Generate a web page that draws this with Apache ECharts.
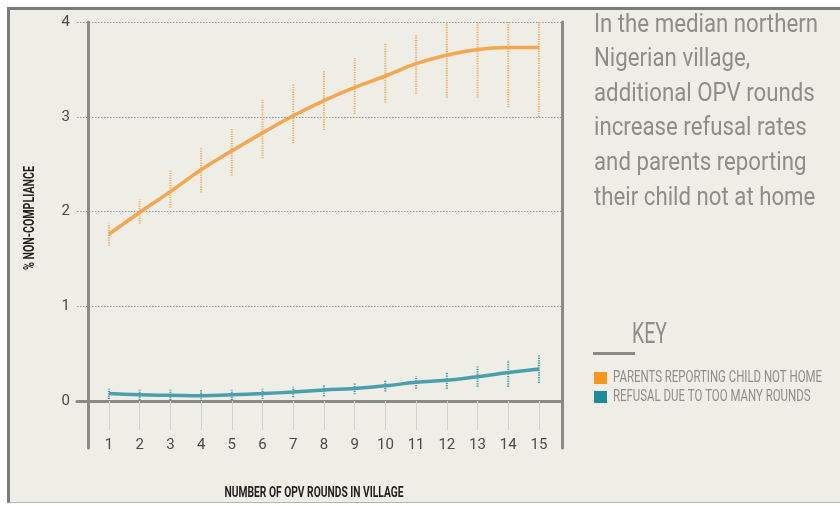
<!DOCTYPE html>
<html>
<head>
<meta charset="utf-8">
<script src="https://cdn.jsdelivr.net/npm/echarts@6/dist/echarts.min.js"></script>
<style>
  html, body { margin: 0; padding: 0; background: #ffffff; }
  #wrap { position: relative; width: 840px; height: 506px; overflow: hidden; }
  #frame { position: absolute; left: 7px; top: 7px; width: 840px; height: 496px;
           background: #eeede6; border-top: 3px solid #7a7a7a; border-left: 3px solid #7a7a7a;
           border-bottom: 1px solid #b4b4b0; box-sizing: border-box; }
  #chart { position: absolute; left: 0; top: 0; width: 840px; height: 506px; }
</style>
</head>
<body>
<div id="wrap"><div id="frame"></div><div id="chart"></div></div>
<script>
const rounds = [1, 2, 3, 4, 5, 6, 7, 8, 9, 10, 11, 12, 13, 14, 15];

const notHome     = [1.76, 1.99, 2.21, 2.44, 2.64, 2.83, 3.01, 3.17, 3.31, 3.43, 3.56, 3.65, 3.71, 3.73, 3.73];
const notHomeLow  = [1.64, 1.87, 2.04, 2.20, 2.38, 2.56, 2.72, 2.86, 3.03, 3.15, 3.24, 3.20, 3.20, 3.10, 3.00];
const notHomeHigh = [1.87, 2.13, 2.43, 2.67, 2.87, 3.18, 3.35, 3.48, 3.62, 3.77, 3.87, 4.00, 4.00, 4.00, 4.00];

const refusal     = [0.08, 0.065, 0.06, 0.055, 0.065, 0.078, 0.095, 0.116, 0.133, 0.16, 0.197, 0.218, 0.256, 0.30, 0.337];
const refusalLow  = [0.02, 0.01, 0.01, 0.00, 0.01, 0.02, 0.04, 0.05, 0.07, 0.10, 0.13, 0.13, 0.15, 0.15, 0.19];
const refusalHigh = [0.13, 0.12, 0.12, 0.12, 0.12, 0.13, 0.15, 0.17, 0.19, 0.22, 0.26, 0.30, 0.37, 0.43, 0.48];

const seriesNames = ['PARENTS REPORTING CHILD NOT HOME', 'REFUSAL DUE TO TOO MANY ROUNDS'];
const titleLines = ['In the median northern', 'Nigerian village,', 'additional OPV rounds',
                    'increase refusal rates', 'and parents reporting', 'their child not at home'];
const keyLabel = 'KEY';
const xName = 'NUMBER OF OPV ROUNDS IN VILLAGE';
const yName = '% NON-COMPLIANCE';

const FONT = 'Roboto, "Open Sans", sans-serif';
const AX = '#8a8a84';
const TXT = '#8d8d89';
const ORANGE_KEY = '#f7961e';
const TEAL_KEY = '#1f8a99';

const measureCtx = document.createElement('canvas').getContext('2d');
function fitScale(text, font, target) {
  measureCtx.font = font;
  return target / measureCtx.measureText(text).width;
}

const titleFont = '25px ' + FONT;
const titleScale = fitScale(titleLines[0], titleFont, 224);
const keyFont = '30px ' + FONT;
const keyScale = fitScale(keyLabel, keyFont, 35);
const legFont = '16px ' + FONT;
const legScale = fitScale(seriesNames[0], legFont, 209);
const nameFont = 'bold 14px ' + FONT;
const xNameScale = fitScale(xName, nameFont, 179);
const yNameScale = fitScale(yName, nameFont, 104);

function errData(lo, hi) { return rounds.map((r, i) => [r, lo[i], hi[i]]); }
function errRender(color) {
  return function (params, api) {
    const p1 = api.coord([api.value(0), api.value(1)]);
    const p2 = api.coord([api.value(0), api.value(2)]);
    return { type: 'line', shape: { x1: p1[0], y1: p1[1], x2: p2[0], y2: p2[1] },
             style: { stroke: color, lineWidth: 2, lineDash: [1.2, 1.2] } };
  };
}

const chart = echarts.init(document.getElementById('chart'), null, { renderer: 'canvas' });
chart.setOption({
  backgroundColor: 'transparent',
  animation: false,
  grid: [
    { left: 77, right: 278, top: 22, bottom: 105 },
    { left: 88, right: 278, top: 22, bottom: 58 }
  ],
  xAxis: [
    { type: 'value', gridIndex: 0, min: -0.04, max: 15.75,
      axisLine: { onZero: false, lineStyle: { color: AX, width: 3 } },
      axisTick: { customValues: rounds, length: 29, lineStyle: { color: '#d2d2cc', width: 1 } },
      axisLabel: { customValues: rounds, margin: 37, color: '#4a4a4a', fontSize: 15, fontFamily: FONT },
      splitLine: { show: false } },
    { type: 'value', gridIndex: 1, min: 0, max: 1, show: false }
  ],
  yAxis: [
    { type: 'value', gridIndex: 0, min: 0, max: 4, interval: 1,
      axisLine: { show: false }, axisTick: { show: false },
      axisLabel: { margin: 7, color: '#4a4a4a', fontSize: 15, fontFamily: FONT },
      splitLine: { lineStyle: { color: '#9a9a96', width: 1, type: [1.5, 1.5] } } },
    { type: 'value', gridIndex: 1, min: 0, max: 1, position: 'left',
      axisLine: { show: true, lineStyle: { color: AX, width: 3 } },
      axisTick: { show: false }, axisLabel: { show: false }, splitLine: { show: false } },
    { type: 'value', gridIndex: 1, min: 0, max: 1, position: 'right',
      axisLine: { show: true, lineStyle: { color: AX, width: 3 } },
      axisTick: { show: false }, axisLabel: { show: false }, splitLine: { show: false } }
  ],
  graphic: [
    { type: 'text', x: 594, y: 8, scaleX: titleScale,
      style: { text: titleLines.join('\n'), fill: TXT, font: titleFont, lineHeight: 34.6 } },
    { type: 'text', x: 632, y: 320, scaleX: keyScale,
      style: { text: keyLabel, fill: TXT, font: keyFont } },
    { type: 'rect', shape: { x: 593, y: 352, width: 42, height: 3 }, style: { fill: AX } },
    { type: 'rect', shape: { x: 594, y: 372, width: 13, height: 12 }, style: { fill: ORANGE_KEY } },
    { type: 'rect', shape: { x: 594, y: 391, width: 13, height: 12 }, style: { fill: TEAL_KEY } },
    { type: 'text', x: 613, y: 378, scaleX: legScale,
      style: { text: seriesNames[0], fill: TXT, font: legFont, verticalAlign: 'middle' } },
    { type: 'text', x: 613, y: 397, scaleX: legScale,
      style: { text: seriesNames[1], fill: TXT, font: legFont, verticalAlign: 'middle' } },
    { type: 'text', x: 314, y: 493, scaleX: xNameScale,
      style: { text: xName, fill: '#222', font: nameFont, align: 'center', verticalAlign: 'middle' } },
    { type: 'text', x: 30, y: 218, rotation: Math.PI / 2, scaleX: yNameScale,
      style: { text: yName, fill: '#222', font: nameFont, align: 'center', verticalAlign: 'middle' } }
  ],
  series: [
    { type: 'custom', name: 'errNotHome', xAxisIndex: 0, yAxisIndex: 0, renderItem: errRender('#f2ae5e'),
      data: errData(notHomeLow, notHomeHigh), z: 2, silent: true },
    { type: 'custom', name: 'errRefusal', xAxisIndex: 0, yAxisIndex: 0, renderItem: errRender('#3a97a8'),
      data: errData(refusalLow, refusalHigh), z: 2, silent: true },
    { type: 'line', name: seriesNames[0], xAxisIndex: 0, yAxisIndex: 0, smooth: true, showSymbol: false,
      data: rounds.map((r, i) => [r, notHome[i]]), z: 3,
      lineStyle: { color: '#f4a650', width: 3.5 }, itemStyle: { color: ORANGE_KEY } },
    { type: 'line', name: seriesNames[1], xAxisIndex: 0, yAxisIndex: 0, smooth: true, showSymbol: false,
      data: rounds.map((r, i) => [r, refusal[i]]), z: 3,
      lineStyle: { color: '#4a9fae', width: 3.5 }, itemStyle: { color: TEAL_KEY } }
  ]
});
</script>
</body>
</html>
